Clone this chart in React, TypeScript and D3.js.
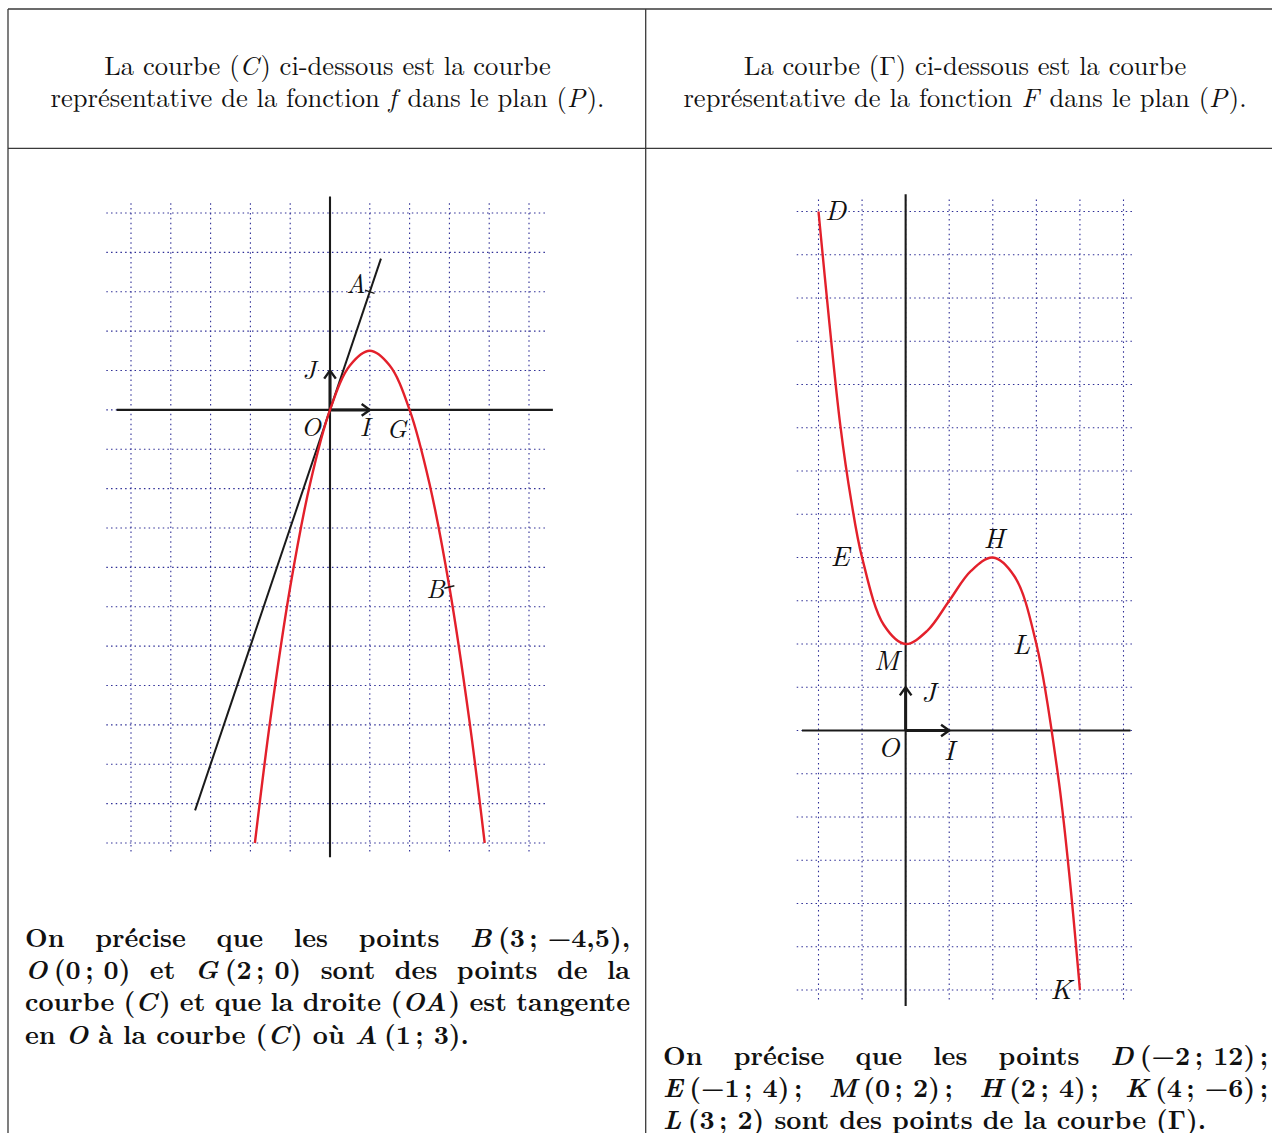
import React from 'react';
import * as d3 from 'd3';

const W = 1272;
const H = 1133;

// ---------- Left panel: curve (C) of f ----------
const fX = [-1.887, -1.5, -1, -0.5, 0, 0.5, 1, 1.5, 2, 2.5, 3, 3.5, 3.887];
const fY = [-11, -7.875, -4.5, -1.875, 0, 1.125, 1.5, 1.125, 0, -1.875, -4.5, -7.875, -11];
const tangentX = [-3.39, 1.28];
const tangentY = [-10.17, 3.84];
const leftGridX = [-5, -4, -3, -2, -1, 0, 1, 2, 3, 4, 5];
const leftGridY = [5, 4, 3, 2, 1, 0, -1, -2, -3, -4, -5, -6, -7, -8, -9, -10, -11];
const leftLabels = ['A', 'B', 'O', 'G', 'I', 'J'];
const leftLabelX = [1, 3, 0, 2, 1, 0];
const leftLabelY = [3, -4.5, 0, 0, 0, 1];
const leftLabelDx = [-14, -14, -19, -13, -5, -21];
const leftLabelDy = [-9, 0, 16, 18, 16, -2];
const leftMarks = ['A', 'B'];

// ---------- Right panel: curve (Γ) of F ----------
const FX = [-2, -1.75, -1.5, -1.25, -1, -0.5, 0, 0.5, 1, 1.5, 2, 2.5, 3, 3.5, 3.75, 4];
const FY = [12, 9.42, 7.06, 5.32, 4, 2.44, 2, 2.31, 3, 3.69, 4, 3.56, 2, -1.06, -3.27, -6];
const rightGridX = [-2, -1, 0, 1, 2, 3, 4, 5];
const rightGridY = [12, 11, 10, 9, 8, 7, 6, 5, 4, 3, 2, 1, 0, -1, -2, -3, -4, -5, -6];
const rightLabels = ['D', 'E', 'H', 'M', 'L', 'K', 'J', 'O', 'I'];
const rightLabelX = [-2, -1, 2, 0, 3, 4, 0, 0, 1];
const rightLabelY = [12, 4, 4, 2, 2, -6, 1, 0, 0];
const rightLabelDx = [17, -22, 1, -19, -15, -19, 23, -17, 0];
const rightLabelDy = [-4, -4, -22, 14, -2, -3, 3, 14, 17];

// ---------- Texts ----------
// *x* = italic, ~ = unbreakable space, ^ = thin space
const headLeft = [
  'La courbe (*C*) ci-dessous est la courbe',
  'représentative de la fonction *f* dans le plan (*P*).',
];
const headRight = [
  'La courbe (Γ) ci-dessous est la courbe',
  'représentative de la fonction *F* dans le plan (*P*).',
];
const bodyLeft = [
  'On précise que les points *B*^(3^;~−4,5),',
  '*O*^(0^;~0) et *G*^(2^;~0) sont des points de la',
  'courbe (*C*) et que la droite (*OA*) est tangente',
  'en *O* à la courbe (*C*) où *A*^(1^;~3).',
];
const bodyRight = [
  'On précise que les points *D*^(−2^;~12)^;',
  '*E*^(−1^;~4)^; *M*^(0^;~2)^; *H*^(2^;~4)^; *K*^(4^;~−6)^;',
  '*L*^(3^;~2) sont des points de la courbe (Γ).',
];

const FONT = 'Latin Modern Roman';
const SERIF = `"${FONT}", "Liberation Serif", serif`;
const GRID = '#2e2e96';
const RED = '#e3202b';
const THIN = 0.17;
const ITCORR = 0.07;

type Run = { t: string; it: boolean; dx: number };
function parseRuns(s: string): Run[] {
  const runs: Run[] = [];
  let it = false;
  let buf = '';
  let pend = 0;
  const flush = () => {
    if (buf.length) {
      runs.push({ t: buf, it, dx: pend });
      pend = 0;
      buf = '';
    }
  };
  for (const ch of s) {
    if (ch === '*') {
      flush();
      if (it) pend += ITCORR;
      it = !it;
    } else if (ch === '^') {
      flush();
      pend += THIN;
    } else if (ch === '~') {
      buf += ' ';
    } else {
      buf += ch;
    }
  }
  flush();
  return runs;
}

let ctx: CanvasRenderingContext2D | null = null;
function measureRuns(runs: Run[], size: number, bold: boolean): number {
  if (!ctx) ctx = document.createElement('canvas').getContext('2d');
  if (!ctx) return 0;
  let w = 0;
  for (const r of runs) {
    ctx.font = `${r.it ? 'italic ' : ''}${bold ? 'bold ' : ''}${size}px "${FONT}"`;
    w += ctx.measureText(r.t).width + r.dx * size;
  }
  return w;
}

function RunText({ runs, x, y, size, bold }: { runs: Run[]; x: number; y: number; size: number; bold: boolean }) {
  return (
    <text x={x} y={y} fontFamily={SERIF} fontSize={size} fontWeight={bold ? 'bold' : 'normal'} fill="#111" style={{ whiteSpace: 'pre' }}>
      {runs.map((r, i) => (
        <tspan key={i} fontStyle={r.it ? 'italic' : 'normal'} dx={r.dx ? r.dx * size : undefined}>
          {r.t}
        </tspan>
      ))}
    </text>
  );
}

function CenterLines({ lines, cx, y0, lh, size }: { lines: string[]; cx: number; y0: number; lh: number; size: number }) {
  return (
    <g>
      {lines.map((l, i) => {
        const runs = parseRuns(l);
        const w = measureRuns(runs, size, false);
        return <RunText key={i} runs={runs} x={cx - w / 2} y={y0 + i * lh} size={size} bold={false} />;
      })}
    </g>
  );
}

function Justified({ lines, x0, width, y0, lh, size }: { lines: string[]; x0: number; width: number; y0: number; lh: number; size: number }) {
  const spaceW = measureRuns([{ t: ' ', it: false, dx: 0 }], size, true);
  const out: React.ReactNode[] = [];
  lines.forEach((l, li) => {
    const words = l.split(' ').map(parseRuns);
    const widths = words.map((w) => measureRuns(w, size, true));
    const total = d3.sum(widths);
    const last = li === lines.length - 1;
    const gap = last || words.length < 2 ? spaceW : (width - total) / (words.length - 1);
    let x = x0;
    words.forEach((w, wi) => {
      out.push(<RunText key={`${li}-${wi}`} runs={w} x={x} y={y0 + li * lh} size={size} bold />);
      x += widths[wi] + gap;
    });
  });
  return <g>{out}</g>;
}

function arrowHead(x1: number, y1: number, x2: number, y2: number, len = 10, ang = 0.62) {
  const a = Math.atan2(y2 - y1, x2 - x1);
  const p1 = [x2 - len * Math.cos(a - ang), y2 - len * Math.sin(a - ang)];
  const p2 = [x2 - len * Math.cos(a + ang), y2 - len * Math.sin(a + ang)];
  return `M${p1[0]},${p1[1]}L${x2},${y2}L${p2[0]},${p2[1]}`;
}

function Frame({ x, y, gx, gy, gridXExt, gridYExt, axX, axY }: any) {
  const ox = x(0);
  const oy = y(0);
  return (
    <g>
      {gy.map((v: number) => (
        <line key={`h${v}`} x1={x(gridXExt[0])} x2={x(gridXExt[1])} y1={y(v)} y2={y(v)} stroke={GRID} strokeWidth={1.1} strokeDasharray="1.5 3.2" />
      ))}
      {gx.map((v: number) => (
        <line key={`v${v}`} x1={x(v)} x2={x(v)} y1={y(gridYExt[0])} y2={y(gridYExt[1])} stroke={GRID} strokeWidth={1.1} strokeDasharray="1.5 3.4" />
      ))}
      <line x1={x(axX[0])} x2={x(axX[1])} y1={oy} y2={oy} stroke="#1a1a1a" strokeWidth={2.1} />
      <line x1={ox} x2={ox} y1={y(axY[0])} y2={y(axY[1])} stroke="#1a1a1a" strokeWidth={2.1} />
      <line x1={ox} x2={x(1)} y1={oy} y2={oy} stroke="#1a1a1a" strokeWidth={3} />
      <line x1={ox} x2={ox} y1={oy} y2={y(1)} stroke="#1a1a1a" strokeWidth={3} />
      <path d={arrowHead(ox, oy, x(1), oy)} fill="none" stroke="#1a1a1a" strokeWidth={2.4} />
      <path d={arrowHead(ox, oy, ox, y(1))} fill="none" stroke="#1a1a1a" strokeWidth={2.4} />
    </g>
  );
}

export default function App() {
  const lx = d3.scaleLinear().domain([-5, 5]).range([131, 529]);
  const ly = d3.scaleLinear().domain([5, -11]).range([213, 843]);
  const rx = d3.scaleLinear().domain([-2, 5]).range([818.5, 1123.5]);
  const ry = d3.scaleLinear().domain([12, -6]).range([211.5, 990]);

  const lineL = d3
    .line<number>()
    .x((_, i) => lx(fX[i]))
    .y((d) => ly(d))
    .curve(d3.curveCatmullRom.alpha(0.5));
  const lineR = d3
    .line<number>()
    .x((_, i) => rx(FX[i]))
    .y((d) => ry(d))
    .curve(d3.curveCatmullRom.alpha(0.5));

  // font sizes fitted to the reference line widths
  const base = 20;
  const headW = measureRuns(parseRuns(headLeft[0]), base, false);
  const headSize = headW > 0 ? (base * 447) / headW : 22;
  const lastW = measureRuns(parseRuns(bodyLeft[3].replace(/ /g, '~')), base, true);
  const bodySize = lastW > 0 ? (base * 446) / lastW : 22;

  const tdx = lx(tangentX[1]) - lx(tangentX[0]);
  const tdy = ly(tangentY[1]) - ly(tangentY[0]);
  const tl = Math.hypot(tdx, tdy);

  return (
    <svg width={W} height={H} style={{ position: 'absolute', left: 0, top: 0, background: '#fff' }}>
      <rect x={0} y={0} width={W} height={H} fill="#fff" />
      <g stroke="#3a3a3a" strokeWidth={1.3}>
        <line x1={8} x2={W} y1={9} y2={9} />
        <line x1={8} x2={W} y1={148.3} y2={148.3} />
        <line x1={8} x2={8} y1={9} y2={H} />
        <line x1={645.7} x2={645.7} y1={9} y2={H} />
      </g>

      <CenterLines lines={headLeft} cx={327.5} y0={75} lh={32} size={headSize} />
      <CenterLines lines={headRight} cx={965} y0={75} lh={32} size={headSize} />

      {/* left chart */}
      <Frame x={lx} y={ly} gx={leftGridX} gy={leftGridY} gridXExt={[-5.62, 5.4]} gridYExt={[5.25, -11.25]} axX={[-5.36, 5.6]} axY={[5.42, -11.36]} />
      <line x1={lx(tangentX[0])} y1={ly(tangentY[0])} x2={lx(tangentX[1])} y2={ly(tangentY[1])} stroke="#1a1a1a" strokeWidth={2} />
      <path d={lineL(fY) || ''} fill="none" stroke={RED} strokeWidth={2.4} />
      {leftMarks.map((m) => {
        const i = leftLabels.indexOf(m);
        const px = lx(leftLabelX[i]);
        const py = ly(leftLabelY[i]);
        const nx = m === 'A' ? -tdy / tl : 1;
        const ny = m === 'A' ? tdx / tl : -0.25;
        return <line key={m} x1={px - nx * 5} y1={py - ny * 5} x2={px + nx * 5} y2={py + ny * 5} stroke="#1a1a1a" strokeWidth={1.5} />;
      })}
      {leftLabels.map((t, i) => (
        <text key={t} x={lx(leftLabelX[i]) + leftLabelDx[i]} y={ly(leftLabelY[i]) + leftLabelDy[i]} fontFamily={SERIF} fontStyle="italic" fontSize={26} textAnchor="middle" dominantBaseline="central" fill="#111">
          {t}
        </text>
      ))}

      {/* right chart */}
      <Frame x={rx} y={ry} gx={rightGridX} gy={rightGridY} gridXExt={[-2.5, 5.25]} gridYExt={[12.28, -6.25]} axX={[-2.38, 5.16]} axY={[12.4, -6.37]} />
      <path d={lineR(FY) || ''} fill="none" stroke={RED} strokeWidth={2.4} />
      {rightLabels.map((t, i) => (
        <text key={t} x={rx(rightLabelX[i]) + rightLabelDx[i]} y={ry(rightLabelY[i]) + rightLabelDy[i]} fontFamily={SERIF} fontStyle="italic" fontSize={28} textAnchor="middle" dominantBaseline="central" fill="#111">
          {t}
        </text>
      ))}

      <Justified lines={bodyLeft} x0={25} width={605} y0={947} lh={32.2} size={bodySize} />
      <Justified lines={bodyRight} x0={663} width={605} y0={1065} lh={32} size={bodySize} />
    </svg>
  );
}
